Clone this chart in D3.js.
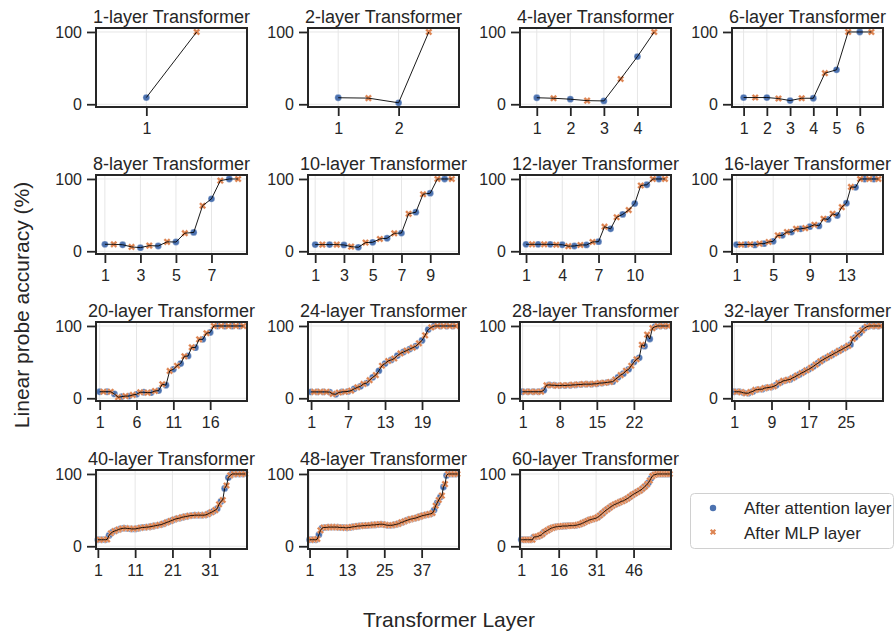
<!DOCTYPE html>
<html><head><meta charset="utf-8">
<script src="https://cdn.jsdelivr.net/npm/d3@7"></script>
<style>
body{margin:0;background:#fff}
svg text{font-family:"Liberation Sans",Arial,Helvetica,sans-serif;fill:#262626}
</style>
</head><body><svg id="chart" width="896" height="632"></svg>
<script>
// ---- data (attention value at layer i, MLP value at layer i+0.5) ----
const layerCounts = [1, 2, 4, 6, 8, 10, 12, 16, 20, 24, 28, 32, 40, 48, 60];
const attn_1 = [9.3];
const mlp_1 = [100];
const attn_2 = [9, 2];
const mlp_2 = [8.5, 100];
const attn_4 = [9, 7, 4.6, 66];
const mlp_4 = [8.3, 5, 35, 100];
const attn_6 = [9.3, 9.3, 5.1, 8.3, 47.7, 100];
const mlp_6 = [9.3, 7.9, 8.3, 43, 100, 100];
const attn_8 = [9.6, 9, 5, 7.3, 12.8, 26, 72.5, 100];
const mlp_8 = [9.6, 6, 7.8, 13, 25, 63, 97.7, 100];
const attn_10 = [9.2, 9.2, 8.7, 5.5, 12.4, 18, 25.2, 54, 80.3, 100];
const mlp_10 = [9.2, 9.2, 6.4, 12, 17, 24.8, 51.8, 78.9, 100, 100];
const attn_12 = [9.6, 9.6, 9.6, 9, 7.3, 8.7, 13.3, 31, 51, 66, 92, 100];
const mlp_12 = [9.6, 9.6, 9, 7, 8.7, 12.8, 34, 47, 57, 91, 100, 100];
const attn_16 = [9.2, 9.2, 8.7, 10.5, 13.8, 22, 26.6, 31, 34, 35, 44, 49.5, 66.5, 88.5, 100, 100];
const mlp_16 = [9.2, 9.6, 10.5, 12.8, 22, 26.6, 31, 32, 36.7, 45, 51.8, 61, 89, 100, 100, 100];
const attn_20 = [9, 9, 6, 2.3, 3, 5.5, 8.3, 7.8, 10.6, 18, 40, 48, 58.5, 70, 81.5, 91, 100, 100, 100, 100];
const mlp_20 = [9, 9, 1.4, 3, 4.6, 8.3, 7.8, 10, 19.4, 37.8, 45, 58, 70.5, 81.5, 90, 100, 100, 100, 100, 100];
const attn_24 = [8.8, 8.8, 8.8, 8.5, 5.5, 8.8, 9.5, 13, 16.5, 21, 29, 38, 48, 53, 59, 64, 68, 72, 80, 95, 100, 100, 100, 100];
const mlp_24 = [8.8, 8.8, 8.8, 6, 8, 9, 10.5, 15, 19.8, 25, 32, 45, 51.6, 55, 62, 66, 70, 76, 87, 98, 100, 100, 100, 100];
const attn_28 = [9, 9, 9, 9, 11, 18.5, 18, 17.5, 17.5, 18, 18.5, 19, 19.5, 19.5, 20, 21, 22, 23, 29, 34, 40, 50, 56, 72, 82, 99, 100, 100];
const mlp_28 = [9, 9, 9, 9, 18, 18, 17.5, 18, 18, 18.5, 19, 19.5, 19.5, 20, 21, 21.5, 22.5, 26, 32, 38, 45, 54, 74, 88, 97, 100, 100, 100];
const attn_32 = [9, 9, 7.5, 7, 9.5, 12, 12.5, 14.5, 15.5, 18, 22, 24.5, 26, 29.5, 33, 36.5, 40, 44, 48.5, 53, 56.5, 60, 63.5, 67, 70.5, 74, 84, 90, 97, 100, 100, 100];
const mlp_32 = [9, 8.5, 7, 8.5, 11.5, 12.5, 14, 15, 16.5, 21, 24, 25.5, 28, 31.5, 35, 38.5, 42, 46.5, 51, 55, 58.5, 62, 65.5, 69, 72.5, 82, 88, 94, 99, 100, 100, 100];
const attn_40 = [9, 9, 9, 15, 20, 22, 24, 25, 24.5, 24, 24, 25, 26, 26.5, 27, 28, 29, 30, 32, 34, 36, 38, 39, 40.5, 41.5, 42.5, 43, 43, 43, 43.5, 46, 48.5, 52, 62, 80, 95, 100, 100, 100, 100];
const mlp_40 = [9, 9, 9.5, 18, 21, 23, 24.5, 25, 24.5, 24, 24.5, 25.5, 26, 26.5, 27.5, 28.5, 29.5, 31, 33, 35, 37, 38.5, 40, 41, 42, 42.5, 43, 43, 43, 44.5, 47, 50, 58, 64, 84, 98, 100, 100, 100, 100];
const attn_48 = [9, 9, 9, 16, 25, 26, 26.5, 26.5, 26.5, 26.5, 26, 26, 25.5, 26, 27, 27.5, 28, 28.5, 28.5, 29, 29.5, 29.5, 30, 30.5, 30, 29, 29, 29.5, 30.5, 32, 33.5, 35.5, 37, 38, 39, 40.5, 42, 43, 44, 45, 50, 60, 68, 82, 98, 100, 100, 100];
const mlp_48 = [9, 9, 10, 22, 26, 26, 26.5, 26.5, 26.5, 26, 26, 25.5, 26, 26.5, 27, 28, 28, 28.5, 29, 29, 29.5, 30, 30.5, 30.5, 29.5, 29, 29, 30, 31, 33, 34.5, 36, 37.5, 38.5, 39.5, 41, 42.5, 43.5, 44.5, 46, 56, 64, 70, 86, 100, 100, 100, 100];
const attn_60 = [9, 9, 9, 9, 9, 12.5, 13, 14, 15.5, 19, 21, 23, 25, 26, 27, 27.5, 27.5, 28, 28, 28.5, 28.5, 28.5, 29, 30, 31, 32.5, 34.5, 36, 37, 38, 39, 41, 44, 47, 50, 52.5, 55, 57, 58.5, 60, 62, 63, 65, 67, 69.5, 72, 74, 76, 78, 81, 84, 88, 94, 98.5, 99.5, 100, 100, 100, 100, 100];
const mlp_60 = [9, 9, 9, 9, 9, 13, 13.5, 15, 17, 20, 22, 24, 25.5, 26.5, 27, 27.5, 28, 28, 28, 28.5, 28.5, 29, 29.5, 30.5, 32, 33.5, 35, 36.5, 37.5, 38.5, 40, 42.5, 45.5, 48.5, 51, 53.5, 56, 58, 59.5, 61, 62.5, 64, 66, 68.5, 71, 73, 75, 77, 79.5, 82.5, 86, 91, 97, 99, 100, 100, 100, 100, 100, 100];

const attnSeries = [attn_1, attn_2, attn_4, attn_6, attn_8, attn_10, attn_12, attn_16, attn_20, attn_24, attn_28, attn_32, attn_40, attn_48, attn_60];
const mlpSeries = [mlp_1, mlp_2, mlp_4, mlp_6, mlp_8, mlp_10, mlp_12, mlp_16, mlp_20, mlp_24, mlp_28, mlp_32, mlp_40, mlp_48, mlp_60];
const xTickValues = [[1], [1, 2], [1, 2, 3, 4], [1, 2, 3, 4, 5, 6], [1, 3, 5, 7], [1, 3, 5, 7, 9], [1, 4, 7, 10], [1, 5, 9, 13],
  [1, 6, 11, 16], [1, 7, 13, 19], [1, 8, 15, 22], [1, 9, 17, 25], [1, 11, 21, 31], [1, 13, 25, 37], [1, 16, 31, 46]];
const yTickValues = [0, 100];
const seriesNames = ["After attention layer", "After MLP layer"];
const seriesColors = ["#4C72B0", "#DD8452"];
const xTitle = "Transformer Layer";
const yTitle = "Linear probe accuracy (%)";

// ---- layout ----
const svg = d3.select("#chart");
const panelW = 151, panelH = 79;
const colX = [96, 308, 520, 732];
const rowY = [28, 175, 322, 470];
const ink = "#262626";
const crossPath = d3.symbol(d3.symbolCross, 32)();

layerCounts.forEach((L, i) => {
  const left = colX[i % 4], top = rowY[Math.floor(i / 4)];
  const g = svg.append("g").attr("transform", `translate(${left},${top})`);
  const x = d3.scaleLinear().domain([0.5, L + 1]).range([0, panelW]);
  const y = d3.scaleLinear().domain([-3.8, 105.5]).range([panelH, 0]);

  // grid
  g.append("g").selectAll("line").data(xTickValues[i]).join("line")
    .attr("x1", d => x(d)).attr("x2", d => x(d)).attr("y1", 0).attr("y2", panelH)
    .attr("stroke", "#e6e6e6").attr("stroke-width", 1);
  g.append("g").selectAll("line").data(yTickValues).join("line")
    .attr("x1", 0).attr("x2", panelW).attr("y1", d => y(d)).attr("y2", d => y(d))
    .attr("stroke", "#e6e6e6").attr("stroke-width", 1);

  const attnPts = attnSeries[i].map((v, k) => ({ x: k + 1, y: v }));
  const mlpPts = mlpSeries[i].map((v, k) => ({ x: k + 1.5, y: v }));
  const allPts = [];
  attnPts.forEach((p, k) => { allPts.push(p); allPts.push(mlpPts[k]); });

  const plot = g.append("g");

  plot.selectAll("circle").data(attnPts).join("circle")
    .attr("cx", d => x(d.x)).attr("cy", d => y(d.y)).attr("r", 3.4)
    .attr("fill", seriesColors[0]).attr("stroke", "#fff").attr("stroke-width", 0.3);
  plot.selectAll("path.mlp").data(mlpPts).join("path").attr("class", "mlp")
    .attr("d", crossPath)
    .attr("transform", d => `translate(${x(d.x)},${y(d.y)}) rotate(45)`)
    .attr("fill", seriesColors[1]).attr("stroke", "#fff").attr("stroke-width", 0.25);
  plot.append("path").datum(allPts)
    .attr("d", d3.line().x(d => x(d.x)).y(d => y(d.y)))
    .attr("fill", "none").attr("stroke", "#000").attr("stroke-width", 0.9);

  // axes
  const ya = g.append("g").call(d3.axisLeft(y).tickValues(yTickValues).tickSize(9).tickPadding(5));
  const xa = g.append("g").attr("transform", `translate(0,${panelH})`)
    .call(d3.axisBottom(x).tickValues(xTickValues[i]).tickSize(9).tickPadding(7).tickFormat(d3.format("d")));
  [ya, xa].forEach(a => {
    a.select(".domain").remove();
    a.selectAll("line").attr("stroke", ink).attr("stroke-width", 1.8);
    a.selectAll("text").attr("font-size", 16).attr("fill", ink)
      .style("font-family", '"Liberation Sans",Arial,sans-serif');
  });

  g.append("rect").attr("width", panelW).attr("height", panelH)
    .attr("fill", "none").attr("stroke", ink).attr("stroke-width", 2);

  g.append("text").attr("x", panelW / 2).attr("y", -5).attr("text-anchor", "middle")
    .attr("font-size", 18).text(`${L}-layer Transformer`);
});

// axis titles
svg.append("text").attr("x", 449).attr("y", 627).attr("text-anchor", "middle")
  .attr("font-size", 21).text(xTitle);
svg.append("text").attr("transform", "translate(29,305) rotate(-90)").attr("text-anchor", "middle")
  .attr("font-size", 21).text(yTitle);

// legend
const lg = svg.append("g");
lg.append("rect").attr("x", 690.5).attr("y", 493.5).attr("width", 203).attr("height", 55).attr("rx", 4)
  .attr("fill", "#fff").attr("stroke", "#d0d0d0").attr("stroke-width", 1);
lg.append("circle").attr("cx", 713).attr("cy", 508).attr("r", 3.2).attr("fill", seriesColors[0]);
lg.append("path").attr("d", d3.symbol(d3.symbolCross, 24)()).attr("transform", "translate(713,532) rotate(45)")
  .attr("fill", seriesColors[1]);
lg.append("text").attr("x", 744).attr("y", 513.5).attr("font-size", 17).text(seriesNames[0]);
lg.append("text").attr("x", 744).attr("y", 538.5).attr("font-size", 17).text(seriesNames[1]);
</script>
</body></html>
